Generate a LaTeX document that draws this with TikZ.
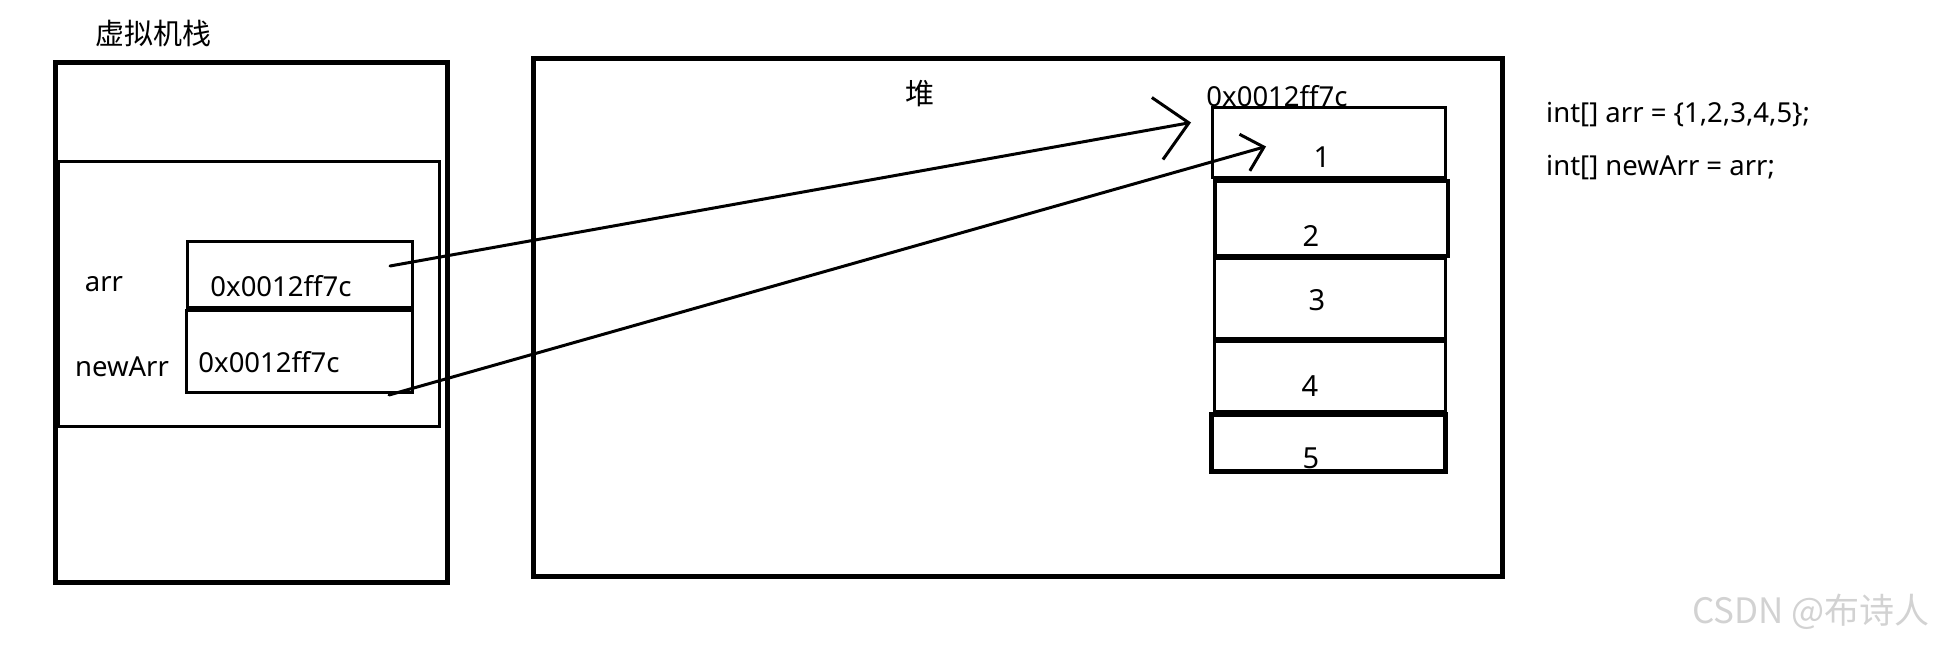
\documentclass[tikz,border=0pt]{standalone}
\usepackage{fontspec}
\setmainfont{Noto Sans}
\newfontfamily\cjk{Noto Sans CJK SC}
\usetikzlibrary{arrows.meta}

\begin{document}
\begin{tikzpicture}[
        x=1pt, y=-1pt,
        box/.style={draw, rectangle, inner sep=0pt, line width=3pt},
        bigbox/.style={box, line width=5pt},
        txt/.style={inner sep=0pt, font=\fontsize{27.5}{32}\selectfont},
        title/.style={inner sep=0pt, font=\cjk\fontsize{29}{34}\selectfont},
        num/.style={inner sep=0pt, font=\fontsize{29}{34}\selectfont},
        link/.style={line width=3pt, line cap=round, line join=round}
    ]
    \useasboundingbox (0,0) rectangle (1937,645);

    % Stack
    \node[title] (stacktitle) at (153,33) {虚拟机栈};
    \node[bigbox, minimum width=392, minimum height=520] (stack) at (251.5,322.5) {};
    \node[box, minimum width=381, minimum height=265] (frame) at (249,294) {};
    \node[box, minimum width=225, minimum height=66] (arrcell) at (300,274.5) {};
    \node[box, minimum width=226, minimum height=82] (newcell) at (299.5,351.5) {};
    \node[txt] (arrname) at (104,284) {arr};
    \node[txt] (newname) at (122,367) {newArr};
    \node[txt] (arrval) at (281,286) {0x0012ff7c};
    \node[txt] (newval) at (269,362) {0x0012ff7c};

    % Heap
    \node[bigbox, minimum width=969, minimum height=518] (heap) at (1018,317) {};
    \node[title] (heaptitle) at (920,94) {堆};
    \node[txt] (heapaddr) at (1277,96) {0x0012ff7c};
    \node[box, fill=white, minimum width=233, minimum height=70] (c1) at (1329,142.5) {};
    \node[box, line width=4pt, minimum width=233, minimum height=75] (c2) at (1331,218) {};
    \node[box, minimum width=231, minimum height=80] (c3) at (1330,298.5) {};
    \node[box, minimum width=231, minimum height=70] (c4) at (1330,376.5) {};
    \node[box, line width=5pt, minimum width=234, minimum height=57] (c5) at (1328.5,443) {};
    \node[num] (v1) at (1322,157) {1};
    \node[num] (v2) at (1311,236) {2};
    \node[num] (v3) at (1317,300) {3};
    \node[num] (v4) at (1310,386) {4};
    \node[num] (v5) at (1311,458) {5};

    % Code
    \node[txt, anchor=west] (code1) at (1546,115) {int[] arr = \{1,2,3,4,5\};};
    \node[txt, anchor=west] (code2) at (1546,168) {int[] newArr = arr;};

    % Arrows
    \coordinate (arrsrc) at ([shift={(-24,-8.5)}]arrcell.east);
    \coordinate (newsrc) at ([shift={(-25,1)}]newcell.south east);
    \coordinate (arrtip) at ([shift={(-20,-20)}]c1.west);
    \coordinate (newtip) at ([shift={(55,4)}]c1.west);
    \draw[link, -{Straight Barb[length=32pt, width=63pt]}] (arrsrc) -- (arrtip);
    \draw[link, -{Straight Barb[length=20pt, width=38pt]}] (newsrc) -- (newtip);

    % Watermark
    \node[inner sep=0pt, anchor=east, text=gray!35, font=\cjk\fontsize{35}{40}\selectfont] (mark) at (1930,612) {CSDN @布诗人};
\end{tikzpicture}
\end{document}
